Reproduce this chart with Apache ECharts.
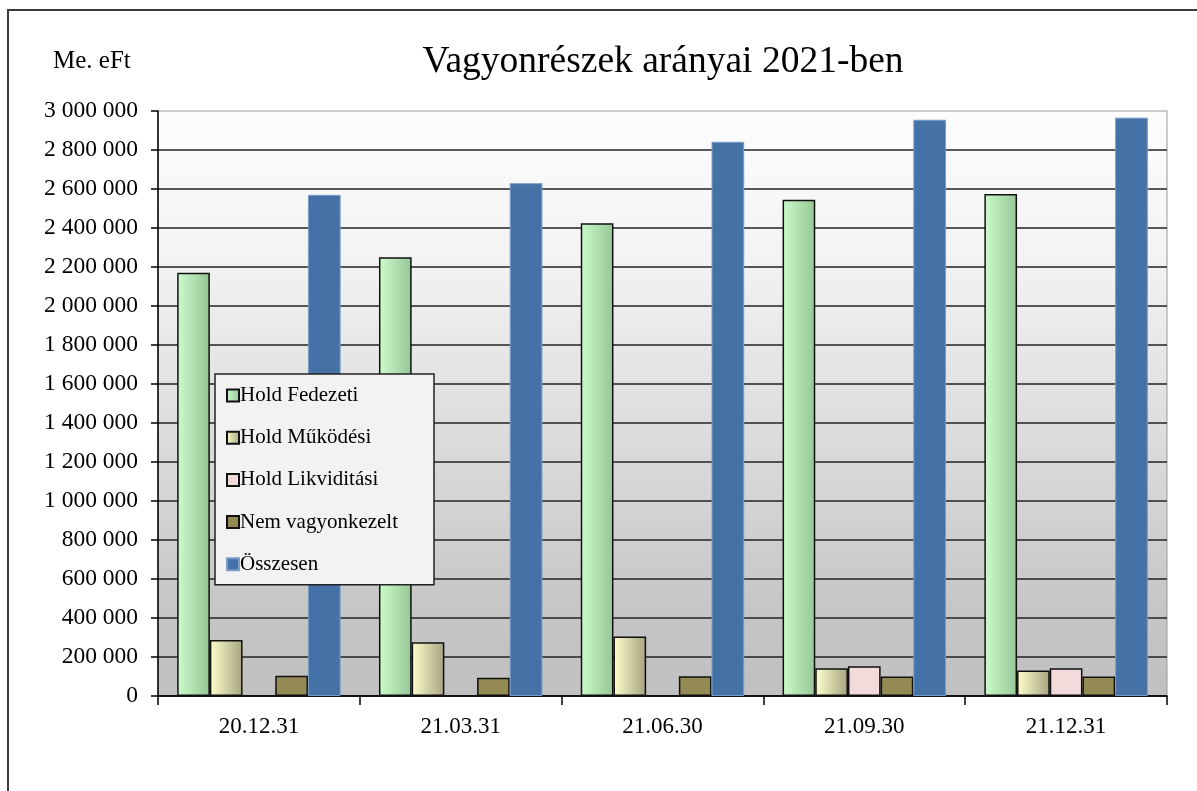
<!DOCTYPE html>
<html>
<head>
<meta charset="utf-8">
<script src="https://cdn.jsdelivr.net/npm/echarts@6/dist/echarts.min.js"></script>
<style>
html,body{margin:0;padding:0;background:#fff;}
#chart{width:1197px;height:791px;}
</style>
</head>
<body>
<div id="chart"></div>
<script>
const categories = ['20.12.31', '21.03.31', '21.06.30', '21.09.30', '21.12.31'];
const holdFedezeti = [2170000, 2250000, 2425000, 2545000, 2575000];
const holdMukodesi = [287000, 276000, 305000, 142000, 131000];
const holdLikviditasi = [null, null, null, 152000, 142000];
const nemVagyonkezelt = [104000, 94000, 101000, 100000, 100000];
const osszesen = [2570000, 2630000, 2842000, 2955000, 2966000];
const seriesNames = ['Hold Fedezeti', 'Hold Működési', 'Hold Likviditási', 'Nem vagyonkezelt', 'Összesen'];
const titleText = 'Vagyonrészek arányai 2021-ben';
const unitText = 'Me. eFt';

const FONT = '"Liberation Serif", "Times New Roman", serif';
const G = echarts.graphic.LinearGradient;

function hGrad(a, b) {
  return new G(0, 0, 1, 0, [{offset: 0, color: a}, {offset: 1, color: b}]);
}

const chart = echarts.init(document.getElementById('chart'), null, {renderer: 'canvas'});

const barBase = {type: 'bar', barGap: '0%', barCategoryGap: '19%'};

chart.setOption({
  animation: false,
  backgroundColor: '#ffffff',
  title: {
    text: titleText,
    left: 658, top: 38, textAlign: 'center',
    textStyle: {fontFamily: FONT, fontSize: 37.5, fontWeight: 'normal', color: '#000'}
  },
  graphic: [
    {type: 'rect', shape: {x: 8, y: 10, width: 1400, height: 1000}, style: {fill: 'none', stroke: '#3a3a3a', lineWidth: 2}, z: 0, silent: true},
    {type: 'text', left: 53, top: 49, style: {text: unitText, font: '25px ' + FONT, fill: '#000'}}
  ],
  legend: {
    orient: 'vertical',
    left: 215, top: 374,
    padding: [11, 8, 10, 11],
    itemGap: 21.2,
    itemWidth: 12, itemHeight: 12,
    icon: 'rect',
    backgroundColor: '#f2f2f2',
    borderColor: '#222',
    borderWidth: 1.5,
    borderRadius: 0,
    textStyle: {fontFamily: FONT, fontSize: 21, color: '#000', padding: [0, 0, 0, -4], lineHeight: 20, width: 186},
    data: seriesNames
  },
  grid: {
    left: 158, right: 30, top: 111, bottom: 95,
    show: true,
    borderColor: '#9a9a9a', borderWidth: 1,
    backgroundColor: new G(0, 0, 0, 1, [
      {offset: 0, color: '#fdfdfd'},
      {offset: 0.25, color: '#f3f3f3'},
      {offset: 0.85, color: '#c6c6c6'},
      {offset: 1, color: '#c0c0c0'}
    ])
  },
  xAxis: {
    type: 'category',
    data: categories,
    boundaryGap: true,
    axisLine: {lineStyle: {color: '#000', width: 1.5}},
    axisTick: {show: true, alignWithLabel: false, length: 9, lineStyle: {color: '#000', width: 1.5}},
    axisLabel: {fontFamily: FONT, fontSize: 23, color: '#000', margin: 19}
  },
  yAxis: {
    type: 'value',
    min: 0, max: 3000000, interval: 200000,
    axisLine: {show: true, lineStyle: {color: '#000', width: 1.5}},
    axisTick: {show: true, length: 7, lineStyle: {color: '#000', width: 1.5}},
    splitLine: {show: true, showMaxLine: false, lineStyle: {color: '#222', width: 1.5}},
    axisLabel: {
      fontFamily: FONT, fontSize: 23.5, color: '#000', margin: 20,
      formatter: v => String(v).replace(/\B(?=(\d{3})+(?!\d))/g, ' ')
    }
  },
  series: [
    Object.assign({}, barBase, {name: seriesNames[0], data: holdFedezeti,
      itemStyle: {color: hGrad('#ccfccc', '#96c596'), borderColor: '#111', borderWidth: 1.5}}),
    Object.assign({}, barBase, {name: seriesNames[1], data: holdMukodesi,
      itemStyle: {color: hGrad('#ffffcc', '#a6a382'), borderColor: '#111', borderWidth: 1.5}}),
    Object.assign({}, barBase, {name: seriesNames[2], data: holdLikviditasi,
      itemStyle: {color: '#f2dcdb', borderColor: '#111', borderWidth: 1.5}}),
    Object.assign({}, barBase, {name: seriesNames[3], data: nemVagyonkezelt,
      itemStyle: {color: '#948a54', borderColor: '#111', borderWidth: 1.5}}),
    Object.assign({}, barBase, {name: seriesNames[4], data: osszesen,
      itemStyle: {color: '#4472a7', borderColor: '#7a9cc6', borderWidth: 1}})
  ]
});
</script>
</body>
</html>
